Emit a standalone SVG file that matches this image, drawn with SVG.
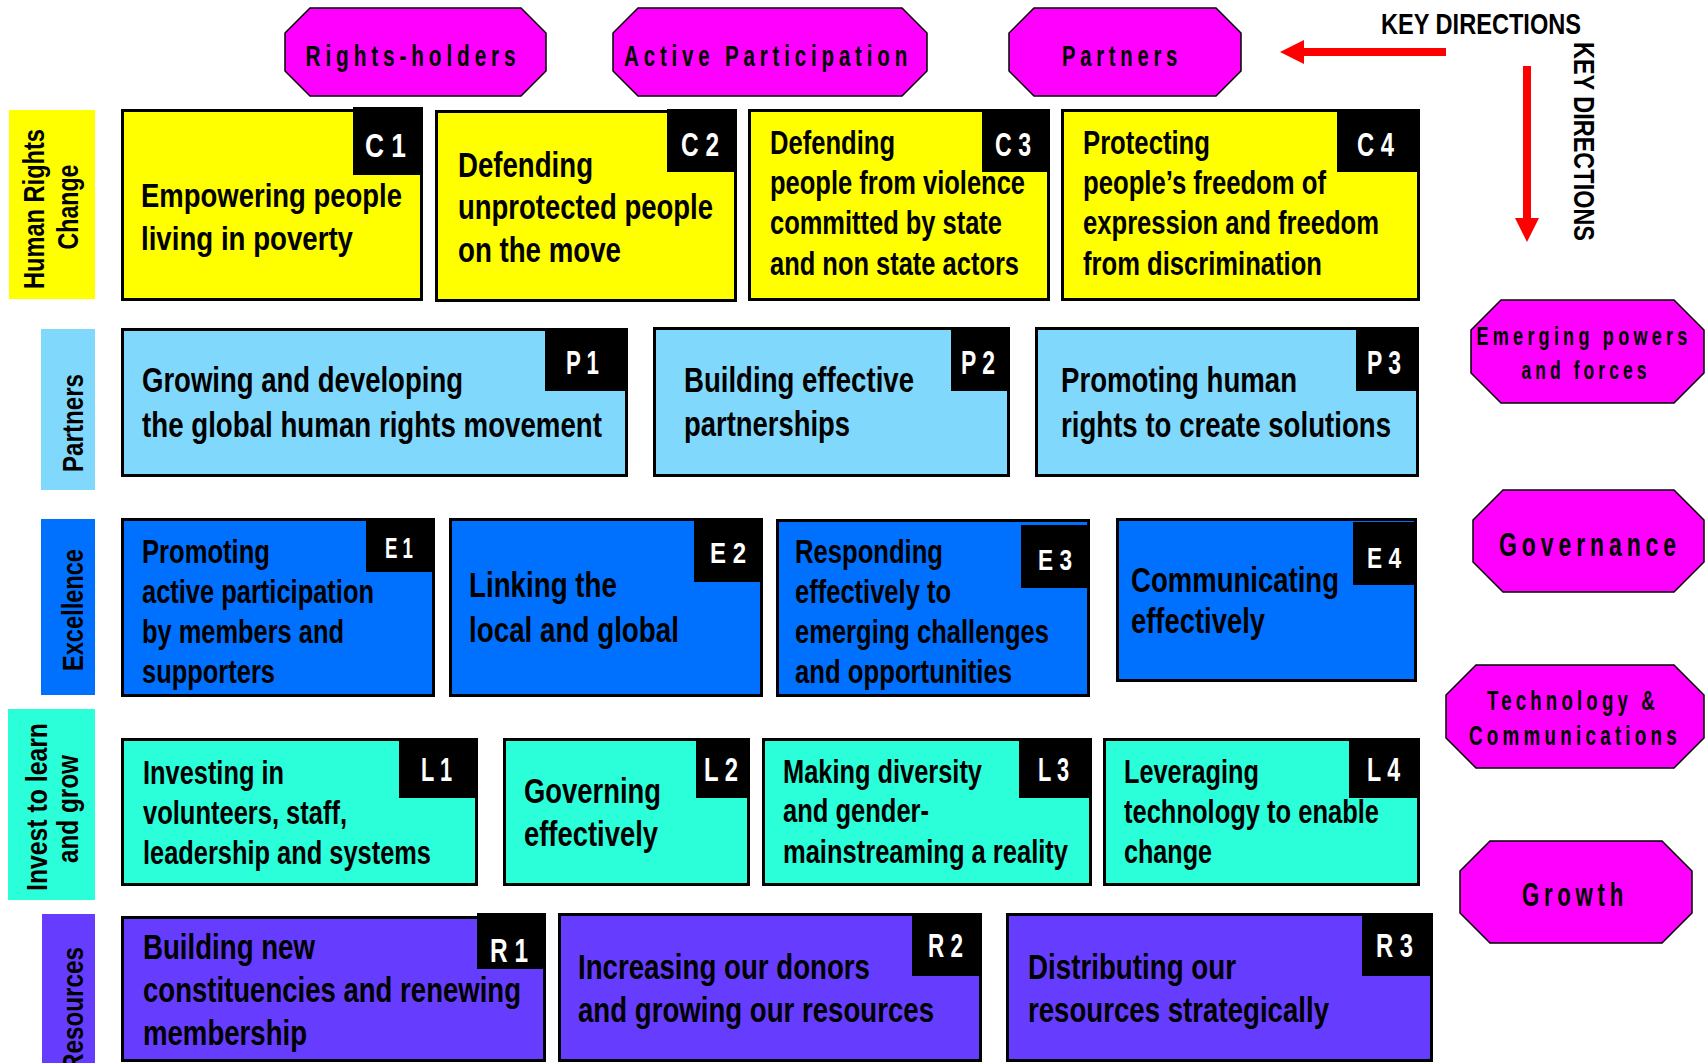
<svg xmlns="http://www.w3.org/2000/svg" width="1705" height="1063" viewBox="0 0 1705 1063">
<style>
.bx{stroke:#000;stroke-width:3}
.y{fill:#FFFF00}.lb{fill:#80D9FC}.b{fill:#0070FF}.t{fill:#2AFFD9}.p{fill:#663DFF}
.tab{fill:#000}
.oct{fill:#FF00FF;stroke:#000;stroke-width:1.5}
.bt{font-family:"Liberation Sans",Arial,sans-serif;font-weight:bold;font-size:33px;fill:#000}
.b32{font-size:35px}
.tl{font-family:"Liberation Sans",Arial,sans-serif;font-weight:bold;font-size:34px;fill:#fff}
.tle{font-size:30px}
.rl{font-family:"Liberation Sans",Arial,sans-serif;font-weight:bold;font-size:30px;fill:#000;text-anchor:middle}
.ot{font-family:"Liberation Sans",Arial,sans-serif;font-weight:bold;font-size:30px;fill:#000;text-anchor:middle;letter-spacing:7px}
.kd{font-family:"Liberation Sans",Arial,sans-serif;font-weight:bold;font-size:30px;fill:#000}
</style>
<defs>
<marker id="arrow" markerUnits="userSpaceOnUse" markerWidth="24" markerHeight="24" viewBox="0 0 24 24" refX="0" refY="12" orient="auto">
<path d="M0,0 L24,12 L0,24 z" fill="#FF0000"/>
</marker>
</defs>
<rect width="1705" height="1063" fill="#fff"/>

<!-- Row labels -->
<g id="label-hr">
<rect x="9" y="110" width="86" height="189" class="y"/>
<text class="rl" transform="translate(44,209) rotate(-90)" textLength="160" lengthAdjust="spacingAndGlyphs">Human Rights</text>
<text class="rl" transform="translate(78,207) rotate(-90)" textLength="85" lengthAdjust="spacingAndGlyphs">Change</text>
</g>
<g id="label-partners">
<rect x="41" y="329" width="54" height="161" class="lb"/>
<text class="rl" transform="translate(83,423) rotate(-90)" textLength="98" lengthAdjust="spacingAndGlyphs">Partners</text>
</g>
<g id="label-excellence">
<rect x="41" y="519" width="54" height="176" class="b"/>
<text class="rl" transform="translate(83,610) rotate(-90)" textLength="122" lengthAdjust="spacingAndGlyphs">Excellence</text>
</g>
<g id="label-invest">
<rect x="8" y="709" width="87" height="191" class="t"/>
<text class="rl" transform="translate(47,807) rotate(-90)" textLength="168" lengthAdjust="spacingAndGlyphs">Invest  to  learn</text>
<text class="rl" transform="translate(78,809) rotate(-90)" textLength="108" lengthAdjust="spacingAndGlyphs">and  grow</text>
</g>
<g id="label-resources">
<rect x="42" y="914" width="53" height="149" class="p"/>
<text class="rl" transform="translate(83,1009) rotate(-90)" textLength="124" lengthAdjust="spacingAndGlyphs">Resources</text>
</g>

<!-- Top octagons -->
<g id="oct-rights-holders">
<polygon class="oct" points="310,8 521,8 546,33 546,71 521,96 310,96 285,71 285,33"/>
<text class="ot" x="413" y="66" textLength="215" lengthAdjust="spacingAndGlyphs">Rights-holders</text>
</g>
<g id="oct-active-participation">
<polygon class="oct" points="638,8 902,8 927,33 927,71 902,96 638,96 613,71 613,33"/>
<text class="ot" x="768" y="66" textLength="288" lengthAdjust="spacingAndGlyphs">Active Participation</text>
</g>
<g id="oct-partners">
<polygon class="oct" points="1034,8 1216,8 1241,33 1241,71 1216,96 1034,96 1009,71 1009,33"/>
<text class="ot" x="1122" y="66" textLength="120" lengthAdjust="spacingAndGlyphs">Partners</text>
</g>

<!-- Right octagons -->
<g id="oct-emerging">
<polygon class="oct" points="1501,300 1674,300 1704,330 1704,373 1674,403 1501,403 1471,373 1471,330"/>
<text class="ot" style="font-size:26px;letter-spacing:6px" x="1584" y="345" textLength="215" lengthAdjust="spacingAndGlyphs">Emerging powers</text>
<text class="ot" style="font-size:26px;letter-spacing:6px" x="1586" y="379" textLength="129" lengthAdjust="spacingAndGlyphs">and forces</text>
</g>
<g id="oct-governance">
<polygon class="oct" points="1503,490 1674,490 1704,520 1704,562 1674,592 1503,592 1473,562 1473,520"/>
<text class="ot" style="font-size:33px" x="1590" y="556" textLength="182" lengthAdjust="spacingAndGlyphs">Governance</text>
</g>
<g id="oct-technology">
<polygon class="oct" points="1476,665 1674,665 1704,695 1704,738 1674,768 1476,768 1446,738 1446,695"/>
<text class="ot" style="font-size:27px;letter-spacing:6px" x="1573" y="710" textLength="172" lengthAdjust="spacingAndGlyphs">Technology &amp;</text>
<text class="ot" style="font-size:27px;letter-spacing:6px" x="1575" y="745" textLength="212" lengthAdjust="spacingAndGlyphs">Communications</text>
</g>
<g id="oct-growth">
<polygon class="oct" points="1490,841 1662,841 1692,871 1692,913 1662,943 1490,943 1460,913 1460,871"/>
<text class="ot" style="font-size:33px" x="1575" y="906" textLength="106" lengthAdjust="spacingAndGlyphs">Growth</text>
</g>

<!-- Row 1: Human Rights Change -->
<g id="C1">
<rect class="bx y" x="122.5" y="110.5" width="299" height="189"/>
<rect class="tab" x="353" y="107" width="70" height="68"/>
<text class="tl" x="365" y="157" textLength="41" lengthAdjust="spacingAndGlyphs">C 1</text>
<text class="bt" x="141" y="207" textLength="261" lengthAdjust="spacingAndGlyphs">Empowering people</text>
<text class="bt" x="141" y="250" textLength="212" lengthAdjust="spacingAndGlyphs">living in poverty</text>
</g>
<g id="C2">
<rect class="bx y" x="436.5" y="111.5" width="299" height="189"/>
<rect class="tab" x="667" y="109" width="70" height="63"/>
<text class="tl" x="681" y="156" textLength="38" lengthAdjust="spacingAndGlyphs">C 2</text>
<text class="bt b32" x="458" y="177" textLength="135" lengthAdjust="spacingAndGlyphs">Defending</text>
<text class="bt b32" x="458" y="219" textLength="255" lengthAdjust="spacingAndGlyphs">unprotected people</text>
<text class="bt b32" x="458" y="262" textLength="163" lengthAdjust="spacingAndGlyphs">on the move</text>
</g>
<g id="C3">
<rect class="bx y" x="749.5" y="110.5" width="299" height="189"/>
<rect class="tab" x="982" y="109" width="68" height="63"/>
<text class="tl" x="995" y="156" textLength="36" lengthAdjust="spacingAndGlyphs">C 3</text>
<text class="bt" x="770" y="154" textLength="125" lengthAdjust="spacingAndGlyphs">Defending</text>
<text class="bt" x="770" y="194" textLength="255" lengthAdjust="spacingAndGlyphs">people from violence</text>
<text class="bt" x="770" y="234" textLength="232" lengthAdjust="spacingAndGlyphs">committed by state</text>
<text class="bt" x="770" y="275" textLength="249" lengthAdjust="spacingAndGlyphs">and non state actors</text>
</g>
<g id="C4">
<rect class="bx y" x="1062.5" y="110.5" width="356" height="189"/>
<rect class="tab" x="1337" y="109" width="83" height="63"/>
<text class="tl" x="1357" y="156" textLength="37" lengthAdjust="spacingAndGlyphs">C 4</text>
<text class="bt" x="1083" y="154" textLength="127" lengthAdjust="spacingAndGlyphs">Protecting</text>
<text class="bt" x="1083" y="194" textLength="243" lengthAdjust="spacingAndGlyphs">people’s freedom of</text>
<text class="bt" x="1083" y="234" textLength="296" lengthAdjust="spacingAndGlyphs">expression and freedom</text>
<text class="bt" x="1083" y="275" textLength="239" lengthAdjust="spacingAndGlyphs">from discrimination</text>
</g>

<!-- Row 2: Partners -->
<g id="P1">
<rect class="bx lb" x="122.5" y="329.5" width="504" height="146"/>
<rect class="tab" x="545" y="328" width="83" height="63"/>
<text class="tl" x="566" y="374" textLength="33" lengthAdjust="spacingAndGlyphs">P 1</text>
<text class="bt b32" x="142" y="392" textLength="321" lengthAdjust="spacingAndGlyphs">Growing and developing</text>
<text class="bt b32" x="142" y="437" textLength="460" lengthAdjust="spacingAndGlyphs">the global human rights movement</text>
</g>
<g id="P2">
<rect class="bx lb" x="654.5" y="328.5" width="354" height="147"/>
<rect class="tab" x="951" y="327" width="59" height="64"/>
<text class="tl" x="961" y="374" textLength="34" lengthAdjust="spacingAndGlyphs">P 2</text>
<text class="bt b32" x="684" y="392" textLength="230" lengthAdjust="spacingAndGlyphs">Building effective</text>
<text class="bt b32" x="684" y="436" textLength="166" lengthAdjust="spacingAndGlyphs">partnerships</text>
</g>
<g id="P3">
<rect class="bx lb" x="1036.5" y="328.5" width="381" height="147"/>
<rect class="tab" x="1356" y="327" width="63" height="64"/>
<text class="tl" x="1367" y="374" textLength="34" lengthAdjust="spacingAndGlyphs">P 3</text>
<text class="bt b32" x="1061" y="392" textLength="236" lengthAdjust="spacingAndGlyphs">Promoting human</text>
<text class="bt b32" x="1061" y="437" textLength="330" lengthAdjust="spacingAndGlyphs">rights to create solutions</text>
</g>

<!-- Row 3: Excellence -->
<g id="E1">
<rect class="bx b" x="122.5" y="519.5" width="311" height="176"/>
<rect class="tab" x="366" y="518" width="69" height="54"/>
<text class="tl tle" x="385" y="558" textLength="28" lengthAdjust="spacingAndGlyphs">E 1</text>
<text class="bt" x="142" y="563" textLength="128" lengthAdjust="spacingAndGlyphs">Promoting</text>
<text class="bt" x="142" y="603" textLength="232" lengthAdjust="spacingAndGlyphs">active participation</text>
<text class="bt" x="142" y="643" textLength="202" lengthAdjust="spacingAndGlyphs">by members and</text>
<text class="bt" x="142" y="683" textLength="133" lengthAdjust="spacingAndGlyphs">supporters</text>
</g>
<g id="E2">
<rect class="bx b" x="450.5" y="519.5" width="311" height="176"/>
<rect class="tab" x="694" y="518" width="69" height="64"/>
<text class="tl tle" x="710" y="563" textLength="36" lengthAdjust="spacingAndGlyphs">E 2</text>
<text class="bt b32" x="469" y="597" textLength="148" lengthAdjust="spacingAndGlyphs">Linking the</text>
<text class="bt b32" x="469" y="642" textLength="210" lengthAdjust="spacingAndGlyphs">local and global</text>
</g>
<g id="E3">
<rect class="bx b" x="777.5" y="520.5" width="311" height="175"/>
<rect class="tab" x="1021" y="525" width="69" height="63"/>
<text class="tl tle" x="1038" y="570" textLength="34" lengthAdjust="spacingAndGlyphs">E 3</text>
<text class="bt" x="795" y="563" textLength="148" lengthAdjust="spacingAndGlyphs">Responding</text>
<text class="bt" x="795" y="603" textLength="156" lengthAdjust="spacingAndGlyphs">effectively to</text>
<text class="bt" x="795" y="643" textLength="254" lengthAdjust="spacingAndGlyphs">emerging challenges</text>
<text class="bt" x="795" y="683" textLength="217" lengthAdjust="spacingAndGlyphs">and opportunities</text>
</g>
<g id="E4">
<rect class="bx b" x="1117.5" y="519.5" width="298" height="161"/>
<rect class="tab" x="1353" y="522" width="64" height="63"/>
<text class="tl tle" x="1367" y="568" textLength="34" lengthAdjust="spacingAndGlyphs">E 4</text>
<text class="bt b32" x="1131" y="592" textLength="208" lengthAdjust="spacingAndGlyphs">Communicating</text>
<text class="bt b32" x="1131" y="633" textLength="134" lengthAdjust="spacingAndGlyphs">effectively</text>
</g>

<!-- Row 4: Invest to learn and grow -->
<g id="L1">
<rect class="bx t" x="122.5" y="739.5" width="354" height="145"/>
<rect class="tab" x="399" y="738" width="79" height="60"/>
<text class="tl" x="421" y="781" textLength="31" lengthAdjust="spacingAndGlyphs">L 1</text>
<text class="bt" x="143" y="784" textLength="141" lengthAdjust="spacingAndGlyphs">Investing in</text>
<text class="bt" x="143" y="824" textLength="204" lengthAdjust="spacingAndGlyphs">volunteers, staff,</text>
<text class="bt" x="143" y="864" textLength="288" lengthAdjust="spacingAndGlyphs">leadership and systems</text>
</g>
<g id="L2">
<rect class="bx t" x="504.5" y="739.5" width="244" height="145"/>
<rect class="tab" x="696" y="738" width="54" height="60"/>
<text class="tl" x="704" y="781" textLength="34" lengthAdjust="spacingAndGlyphs">L 2</text>
<text class="bt b32" x="524" y="803" textLength="137" lengthAdjust="spacingAndGlyphs">Governing</text>
<text class="bt b32" x="524" y="846" textLength="134" lengthAdjust="spacingAndGlyphs">effectively</text>
</g>
<g id="L3">
<rect class="bx t" x="763.5" y="739.5" width="327" height="145"/>
<rect class="tab" x="1019" y="738" width="73" height="60"/>
<text class="tl" x="1038" y="781" textLength="31" lengthAdjust="spacingAndGlyphs">L 3</text>
<text class="bt" x="783" y="783" textLength="199" lengthAdjust="spacingAndGlyphs">Making diversity</text>
<text class="bt" x="783" y="822" textLength="146" lengthAdjust="spacingAndGlyphs">and gender-</text>
<text class="bt" x="783" y="863" textLength="285" lengthAdjust="spacingAndGlyphs">mainstreaming a reality</text>
</g>
<g id="L4">
<rect class="bx t" x="1104.5" y="739.5" width="314" height="145"/>
<rect class="tab" x="1349" y="738" width="71" height="60"/>
<text class="tl" x="1367" y="781" textLength="33" lengthAdjust="spacingAndGlyphs">L 4</text>
<text class="bt" x="1124" y="783" textLength="135" lengthAdjust="spacingAndGlyphs">Leveraging</text>
<text class="bt" x="1124" y="823" textLength="255" lengthAdjust="spacingAndGlyphs">technology to enable</text>
<text class="bt" x="1124" y="863" textLength="88" lengthAdjust="spacingAndGlyphs">change</text>
</g>

<!-- Row 5: Resources -->
<g id="R1">
<rect class="bx p" x="122.5" y="917.5" width="422" height="143"/>
<rect class="tab" x="477" y="913" width="69" height="56"/>
<text class="tl" x="490" y="962" textLength="38" lengthAdjust="spacingAndGlyphs">R 1</text>
<text class="bt b32" x="143" y="959" textLength="172" lengthAdjust="spacingAndGlyphs">Building new</text>
<text class="bt b32" x="143" y="1002" textLength="378" lengthAdjust="spacingAndGlyphs">constituencies and renewing</text>
<text class="bt b32" x="143" y="1045" textLength="164" lengthAdjust="spacingAndGlyphs">membership</text>
</g>
<g id="R2">
<rect class="bx p" x="559.5" y="914.5" width="421" height="146"/>
<rect class="tab" x="912" y="913" width="70" height="63"/>
<text class="tl" x="928" y="957" textLength="35" lengthAdjust="spacingAndGlyphs">R 2</text>
<text class="bt b32" x="578" y="979" textLength="292" lengthAdjust="spacingAndGlyphs">Increasing our donors</text>
<text class="bt b32" x="578" y="1022" textLength="356" lengthAdjust="spacingAndGlyphs">and growing our resources</text>
</g>
<g id="R3">
<rect class="bx p" x="1007.5" y="914.5" width="424" height="146"/>
<rect class="tab" x="1362" y="913" width="71" height="63"/>
<text class="tl" x="1376" y="957" textLength="37" lengthAdjust="spacingAndGlyphs">R 3</text>
<text class="bt b32" x="1028" y="979" textLength="208" lengthAdjust="spacingAndGlyphs">Distributing our</text>
<text class="bt b32" x="1028" y="1022" textLength="301" lengthAdjust="spacingAndGlyphs">resources strategically</text>
</g>

<!-- Key directions -->
<g id="key-directions">
<text class="kd" x="1381" y="34" textLength="200" lengthAdjust="spacingAndGlyphs">KEY DIRECTIONS</text>
<text class="kd" transform="translate(1574,42) rotate(90)" textLength="199" lengthAdjust="spacingAndGlyphs">KEY DIRECTIONS</text>
</g>

<g id="connectors">
<line x1="1446" y1="52" x2="1304" y2="52" stroke="#FF0000" stroke-width="8" marker-end="url(#arrow)"/>
<line x1="1527" y1="66" x2="1527" y2="218" stroke="#FF0000" stroke-width="8" marker-end="url(#arrow)"/>
</g>
</svg>
